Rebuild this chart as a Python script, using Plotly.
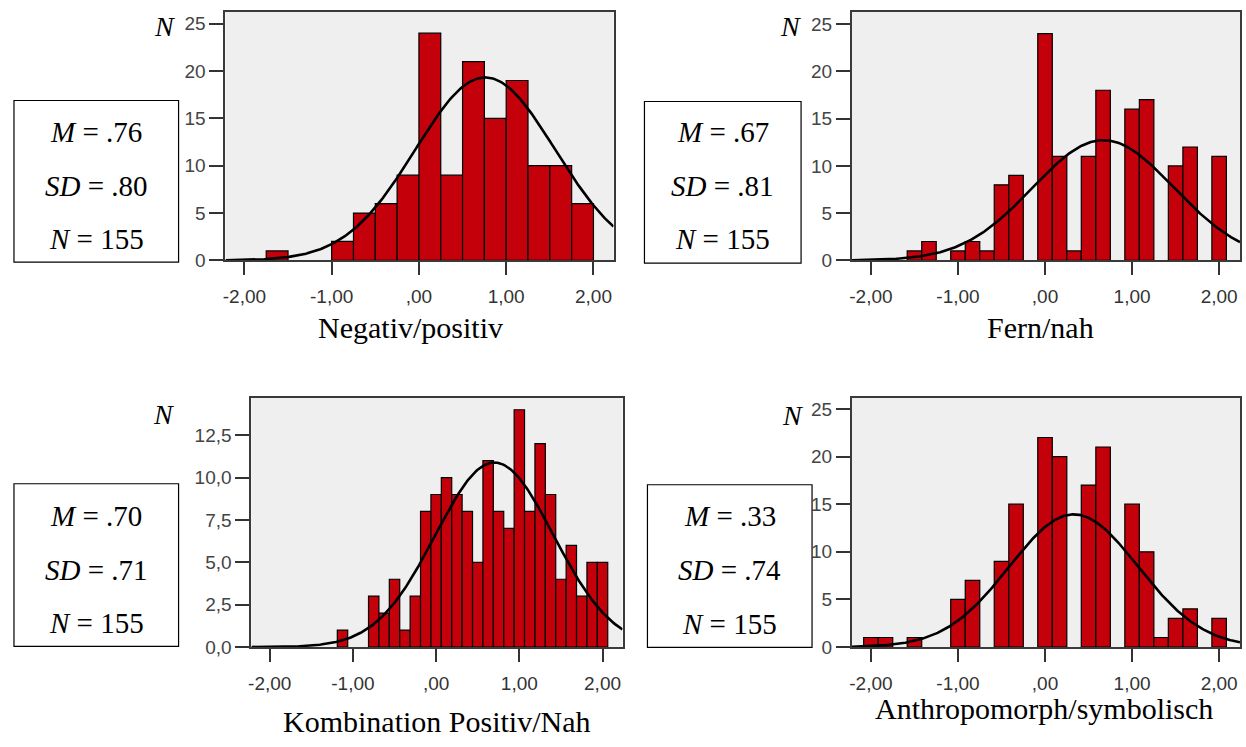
import numpy as np
import plotly.graph_objects as go

W, H = 1246, 747

# ---------------- data ----------------
titles = ["Negativ/positiv", "Fern/nah", "Kombination Positiv/Nah", "Anthropomorph/symbolisch"]
means = [0.76, 0.67, 0.70, 0.33]
sds = [0.80, 0.81, 0.71, 0.74]
ns = [155, 155, 155, 155]
bin_widths = [0.25, 1 / 6, 0.125, 1 / 6]

centers_neg_pos = [-1.625, -0.875, -0.625, -0.375, -0.125, 0.125, 0.375, 0.625, 0.875,
                   1.125, 1.375, 1.625, 1.875]
counts_neg_pos = [1, 2, 5, 6, 9, 24, 9, 21, 15, 19, 10, 10, 6]

centers_fern_nah = [-1.5, -1.333, -1.0, -0.833, -0.667, -0.5, -0.333, 0.0, 0.167, 0.333,
                    0.5, 0.667, 1.0, 1.167, 1.5, 1.667, 2.0]
counts_fern_nah = [1, 2, 1, 2, 1, 8, 9, 24, 11, 1, 11, 18, 16, 17, 10, 12, 11]

centers_komb = [-1.125, -0.75, -0.625, -0.5, -0.375, -0.25, -0.125, 0.0, 0.125, 0.25,
                0.375, 0.5, 0.625, 0.75, 0.875, 1.0, 1.125, 1.25, 1.375, 1.5, 1.625,
                1.75, 1.875, 2.0]
counts_komb = [1, 3, 2, 4, 1, 3, 8, 9, 10, 9, 8, 5, 11, 8, 7, 14, 8, 12, 9, 4, 6, 3, 5, 5]

centers_anthro = [-2.0, -1.833, -1.5, -1.0, -0.833, -0.5, -0.333, 0.0, 0.167, 0.5, 0.667,
                  1.0, 1.167, 1.333, 1.5, 1.667, 2.0]
counts_anthro = [1, 1, 1, 5, 7, 9, 15, 22, 20, 17, 21, 15, 10, 1, 3, 4, 3]

x_tick_vals = [-2, -1, 0, 1, 2]
x_tick_text = ["-2,00", "-1,00", ",00", "1,00", "2,00"]
y_tick_vals_counts = [0, 5, 10, 15, 20, 25]
y_tick_text_counts = ["0", "5", "10", "15", "20", "25"]
y_tick_vals_komb = [0, 2.5, 5, 7.5, 10, 12.5]
y_tick_text_komb = ["0,0", "2,5", "5,0", "7,5", "10,0", "12,5"]

centers = [centers_neg_pos, centers_fern_nah, centers_komb, centers_anthro]
counts = [counts_neg_pos, counts_fern_nah, counts_komb, counts_anthro]
y_ticks = [(y_tick_vals_counts, y_tick_text_counts), (y_tick_vals_counts, y_tick_text_counts),
           (y_tick_vals_komb, y_tick_text_komb), (y_tick_vals_counts, y_tick_text_counts)]

# ---------------- layout geometry (pixels) ----------------
plot_rects = [(223, 612, 12, 264.3), (851, 1240, 12, 264.3),
              (249, 621, 404, 656.7), (851, 1240, 404, 656.7)]
x_ranges = [(-2.217, 2.23), (-2.218, 2.24), (-2.22, 2.24), (-2.218, 2.24)]
y_ranges = [(0, 26.25), (0, 26.3), (0, 14.69), (0, 26.14)]
boxes = [(11, 176, 102, 266), (643, 800, 103, 267), (11, 176, 491, 656), (646, 811, 492, 657)]
box_lines_y = [(134, 189, 243), (134, 189, 243), (524, 579, 632), (524, 579, 633)]
n_label_pos = [(162, 27), (789, 27), (161, 421), (791, 422)]
title_pos = [(408, 332), (1040, 332), (435, 732), (1044, 719)]

BAR_COLOR = "#C4000A"
BG = "#EFEFEF"
FRAME = "#3A3A3A"
SERIF = "Liberation Serif, Times New Roman, serif"
SANS = "Liberation Sans, Arial, sans-serif"


def px_x(v):
    return v / W


def px_y(v):
    return 1 - v / H


fig = go.Figure()
layout = dict(
    width=W, height=H, margin=dict(l=0, r=0, t=0, b=0),
    paper_bgcolor="white", plot_bgcolor=BG, showlegend=False,
    shapes=[], annotations=[],
)

for i in range(4):
    k = "" if i == 0 else str(i + 1)
    xa, ya = "x" + k, "y" + k
    l, r, t, b = plot_rects[i]
    bw = bin_widths[i]

    fig.add_trace(go.Bar(
        x=centers[i], y=counts[i], width=bw, xaxis=xa, yaxis=ya,
        marker=dict(color=BAR_COLOR, line=dict(color="black", width=1.2)),
        hoverinfo="x+y",
    ))
    # fitted normal curve from the displayed M, SD and N
    xs = np.linspace(x_ranges[i][0], x_ranges[i][1], 300)
    ys = ns[i] * bw / (sds[i] * np.sqrt(2 * np.pi)) * np.exp(-0.5 * ((xs - means[i]) / sds[i]) ** 2)
    fig.add_trace(go.Scatter(x=xs, y=ys, mode="lines", xaxis=xa, yaxis=ya,
                             line=dict(color="black", width=2.6), hoverinfo="skip"))

    layout["xaxis" + k] = dict(
        domain=[px_x(l), px_x(r)], range=list(x_ranges[i]), anchor=ya,
        tickvals=x_tick_vals, ticktext=x_tick_text, ticks="outside", ticklen=13,
        tickwidth=1.5, tickcolor="#333333", ticklabelstandoff=5,
        showline=True, mirror=True, linecolor=FRAME, linewidth=2,
        showgrid=False, zeroline=False,
        tickfont=dict(family=SANS, size=19, color="#333333"),
    )
    layout["yaxis" + k] = dict(
        domain=[px_y(b), px_y(t)], range=list(y_ranges[i]), anchor=xa,
        tickvals=y_ticks[i][0], ticktext=y_ticks[i][1], ticks="outside", ticklen=14,
        tickwidth=1.5, tickcolor="#333333", ticklabelstandoff=0,
        showline=True, mirror=True, linecolor=FRAME, linewidth=2,
        showgrid=False, zeroline=False,
        tickfont=dict(family=SANS, size=19, color="#444444"),
    )

    # stats box
    bl, br, bt, bb = boxes[i]
    layout["shapes"].append(dict(type="rect", xref="paper", yref="paper",
                                 x0=px_x(bl), x1=px_x(br), y0=px_y(bb), y1=px_y(bt),
                                 line=dict(color="black", width=1.2), fillcolor="white"))
    cx = px_x((bl + br) / 2)
    m_txt = f"{means[i]:.2f}".lstrip("0")
    s_txt = f"{sds[i]:.2f}".lstrip("0")
    texts = [f"<i>M</i> = {m_txt}", f"<i>SD</i> = {s_txt}", f"<i>N</i> = {ns[i]}"]
    for txt, ly in zip(texts, box_lines_y[i]):
        layout["annotations"].append(dict(
            text=txt, x=cx, y=px_y(ly), xref="paper", yref="paper",
            xanchor="center", yanchor="middle", showarrow=False,
            font=dict(family=SERIF, size=29, color="black")))

    # N label
    nx, ny = n_label_pos[i]
    layout["annotations"].append(dict(
        text="<i>N</i>", x=px_x(nx), y=px_y(ny), xref="paper", yref="paper",
        xanchor="center", yanchor="middle", showarrow=False,
        font=dict(family=SERIF, size=28, color="black")))

    # axis title
    tx, ty = title_pos[i]
    layout["annotations"].append(dict(
        text=titles[i], x=px_x(tx), y=px_y(ty), xref="paper", yref="paper",
        xanchor="center", yanchor="middle", showarrow=False,
        font=dict(family=SERIF, size=30, color="black")))

fig.update_layout(**layout)

page_fix = (
    "var de=document.documentElement, bd=document.body;"
    "de.style.margin='0';de.style.padding='0';de.style.overflow='hidden';"
    "bd.style.margin='0';bd.style.padding='0';bd.style.overflow='hidden';"
)
fig.write_html("out.html", config={"displayModeBar": False}, post_script=page_fix)
